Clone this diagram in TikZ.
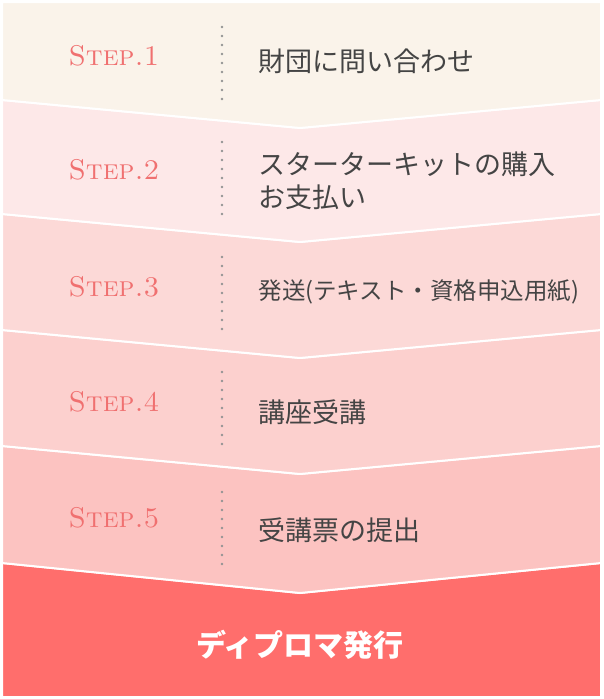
\documentclass[tikz,border=0pt]{standalone}
\usepackage{fontspec}
\newfontfamily\cjk{Noto Sans CJK JP}
\definecolor{b1}{HTML}{FAF3EA}
\definecolor{b2}{HTML}{FDE8E8}
\definecolor{b3}{HTML}{FCD9D7}
\definecolor{b4}{HTML}{FCD0CE}
\definecolor{b5}{HTML}{FCC3C1}
\definecolor{b6}{HTML}{FF6E6C}
\definecolor{stepc}{HTML}{F07070}
\definecolor{txt}{HTML}{444444}
\begin{document}
\begin{tikzpicture}[x=1pt,y=-1pt,
  band/.style={draw=white,line width=2pt},
  steplbl/.style={text=stepc,font=\fontsize{28.5}{28}\selectfont\scshape,anchor=center},
  desc/.style={text=txt,font=\cjk\fontsize{27}{33}\selectfont,anchor=west,align=left},
  divider/.style={draw=gray!85,line width=2.6pt,dash pattern=on 0pt off 9pt,line cap=round}]
\useasboundingbox (0,0) rectangle (603,699);
\fill[white] (0,0) rectangle (603,699);
\path[band,fill=b6] (2,563) -- (300,593) -- (601,563) -- (601,697) -- (2,697) -- cycle;
\path[band,fill=b5] (2,446) -- (300,474) -- (601,446) -- (601,563) -- (300,593) -- (2,563) -- cycle;
\path[band,fill=b4] (2,330) -- (300,358) -- (601,330) -- (601,446) -- (300,474) -- (2,446) -- cycle;
\path[band,fill=b3] (2,214) -- (300,242) -- (601,214) -- (601,330) -- (300,358) -- (2,330) -- cycle;
\path[band,fill=b2] (2,100) -- (300,128) -- (601,100) -- (601,214) -- (300,242) -- (2,214) -- cycle;
\path[band,fill=b1] (2,2) -- (601,2) -- (601,100) -- (300,128) -- (2,100) -- cycle;

\node[steplbl] (s1) at (114,56) {Step.1};
\node[steplbl] (s2) at (114,170) {Step.2};
\node[steplbl] (s3) at (114,287) {Step.3};
\node[steplbl] (s4) at (114,402) {Step.4};
\node[steplbl] (s5) at (114,518) {Step.5};

\coordinate (d1a) at (222,27); \coordinate (d1b) at (222,100);
\coordinate (d2a) at (222,142); \coordinate (d2b) at (222,215);
\coordinate (d3a) at (222,257); \coordinate (d3b) at (222,330);
\coordinate (d4a) at (222,372); \coordinate (d4b) at (222,445);
\coordinate (d5a) at (222,492); \coordinate (d5b) at (222,565);
\foreach \i in {1,...,5} {\draw[divider] (d\i a) -- (d\i b);}

\node[desc] (t1) at (255,61) {財団に問い合わせ};
\node[desc] (t2) at (255,181) {スターターキットの購入\\お支払い};
\node[desc,font=\cjk\fontsize{23.5}{28}\selectfont] (t3) at (255,292) {発送(テキスト・資格申込用紙)};
\node[desc] (t4) at (255,412) {講座受講};
\node[desc] (t5) at (255,530) {受講票の提出};
\node[text=white,font=\cjk\bfseries\fontsize{30}{30}\selectfont] (fin) at (300,645) {ディプロマ発行};
\end{tikzpicture}
\end{document}
